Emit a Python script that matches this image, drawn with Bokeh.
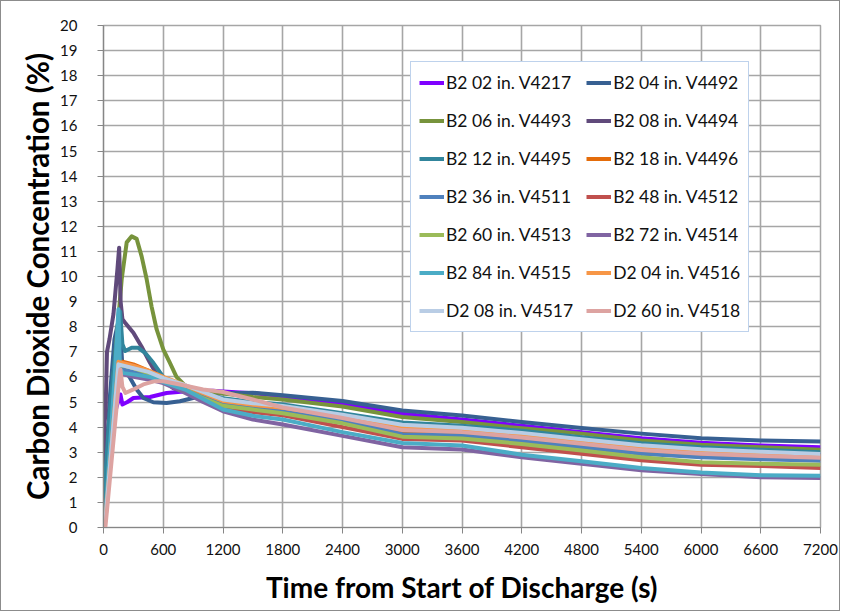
from bokeh.plotting import figure
from bokeh.models import Range1d, FixedTicker, Legend, LegendItem
from bokeh.embed import file_html
from bokeh.resources import INLINE

x_ticks = [0, 600, 1200, 1800, 2400, 3000, 3600, 4200, 4800, 5400, 6000, 6600, 7200]
y_ticks = list(range(0, 21))

names = ["B2 02 in. V4217", "B2 04 in. V4492", "B2 06 in. V4493", "B2 08 in. V4494",
         "B2 12 in. V4495", "B2 18 in. V4496", "B2 36 in. V4511", "B2 48 in. V4512",
         "B2 60 in. V4513", "B2 72 in. V4514", "B2 84 in. V4515", "D2 04 in. V4516",
         "D2 08 in. V4517", "D2 60 in. V4518"]
colors = ["#7F00FF", "#376092", "#77933C", "#604A7B", "#31859C", "#E46C0A", "#4F81BD",
          "#C0504D", "#9BBB59", "#8064A2", "#4BACC6", "#F79646", "#B9CDE5", "#DDA3A1"]

t_b2_02 = [0, 30, 83, 130, 170, 190, 240, 300, 467, 633, 833, 1100, 1200, 1500, 1800, 2400, 3000, 3600, 4200, 4800, 5400, 6000, 6600, 7200]
v_b2_02 = [0, 1.5, 3.9, 4.8, 5.3, 4.9, 5.0, 5.16, 5.2, 5.36, 5.43, 5.45, 5.42, 5.35, 5.23, 4.95, 4.53, 4.3, 4.05, 3.8, 3.56, 3.38, 3.27, 3.2]

t_b2_04 = [0, 20, 60, 110, 160, 190, 267, 333, 400, 500, 633, 767, 900, 1100, 1200, 1500, 1800, 2400, 3000, 3600, 4200, 4800, 5400, 6000, 6600, 7200]
v_b2_04 = [0, 2.0, 5.0, 7.5, 8.4, 6.4, 5.96, 5.5, 5.16, 4.99, 4.96, 5.03, 5.16, 5.3, 5.35, 5.37, 5.27, 5.04, 4.66, 4.46, 4.2, 3.96, 3.74, 3.56, 3.47, 3.43]

t_b2_06 = [0, 10, 50, 100, 183, 233, 283, 333, 383, 433, 483, 533, 600, 667, 733, 833, 967, 1200, 1500, 1800, 2400, 3000, 3600, 4200, 4800, 5400, 6000, 6600, 7200]
v_b2_06 = [0, 0, 3.0, 6.0, 9.9, 11.36, 11.6, 11.5, 10.8, 9.9, 8.8, 7.9, 7.1, 6.56, 6.0, 5.6, 5.47, 5.34, 5.2, 5.1, 4.82, 4.4, 4.2, 3.95, 3.74, 3.47, 3.3, 3.2, 3.1]

t_b2_08 = [0, 10, 20, 35, 60, 100, 140, 157, 172, 190, 217, 300, 383, 467, 550, 700, 900, 1200, 1500, 1800, 2400, 3000, 3600, 4200, 4800, 5400, 6000, 6600, 7200]
v_b2_08 = [0, 4.2, 4.5, 7.0, 7.5, 8.5, 10.3, 11.15, 9.0, 8.3, 8.16, 7.76, 7.2, 6.56, 6.0, 5.55, 5.3, 5.08, 4.93, 4.82, 4.46, 4.04, 3.94, 3.73, 3.48, 3.23, 3.08, 2.99, 2.9]

t_b2_12 = [0, 10, 60, 120, 167, 190, 217, 283, 350, 417, 500, 600, 700, 850, 1000, 1200, 1500, 1800, 2400, 3000, 3600, 4200, 4800, 5400, 6000, 6600, 7200]
v_b2_12 = [0, 1.5, 4.5, 7.0, 8.6, 7.3, 7.03, 7.16, 7.16, 6.96, 6.56, 6.0, 5.6, 5.4, 5.25, 5.15, 5.0, 4.9, 4.55, 4.18, 4.05, 3.85, 3.6, 3.36, 3.2, 3.1, 3.0]

t_group = [0, 20, 150, 200, 300, 450, 600, 800, 1000, 1200, 1500, 1800, 2400, 3000, 3600, 4200, 4800, 5400, 6000, 6600, 7200]
v_b2_18 = [0, 0.5, 6.6, 6.6, 6.5, 6.25, 5.95, 5.62, 5.28, 4.95, 4.8, 4.68, 4.31, 3.81, 3.75, 3.53, 3.28, 3.02, 2.88, 2.8, 2.73]
v_b2_36 = [0, 0.5, 6.3, 6.3, 6.2, 6.05, 5.85, 5.55, 5.2, 4.9, 4.75, 4.62, 4.25, 3.72, 3.67, 3.45, 3.2, 2.94, 2.8, 2.72, 2.66]
v_b2_48 = [0, 0.5, 6.5, 6.55, 6.45, 6.2, 5.9, 5.5, 5.1, 4.8, 4.6, 4.47, 4.0, 3.53, 3.47, 3.2, 2.94, 2.68, 2.5, 2.45, 2.37]
v_b2_60 = [0, 0.5, 6.4, 6.45, 6.35, 6.15, 5.9, 5.55, 5.15, 4.85, 4.7, 4.55, 4.15, 3.62, 3.55, 3.33, 3.07, 2.8, 2.6, 2.54, 2.5]
v_b2_72 = [0, 0.5, 6.2, 6.1, 6.0, 5.9, 5.75, 5.4, 5.0, 4.63, 4.3, 4.1, 3.65, 3.2, 3.11, 2.8, 2.54, 2.28, 2.13, 2.0, 1.97]
v_d2_04 = [0, 0.3, 6.6, 6.55, 6.45, 6.25, 6.0, 5.7, 5.35, 5.04, 4.89, 4.77, 4.42, 3.97, 3.88, 3.67, 3.42, 3.17, 3.02, 2.93, 2.85]
v_d2_08 = [0, 0.3, 6.5, 6.45, 6.35, 6.2, 5.95, 5.7, 5.4, 5.1, 4.95, 4.84, 4.49, 4.09, 3.97, 3.77, 3.52, 3.28, 3.12, 3.02, 2.93]

t_b2_84 = [0, 20, 120, 150, 165, 200, 300, 467, 633, 833, 1200, 1500, 1800, 2400, 3000, 3600, 4200, 4800, 5400, 6000, 6600, 7200]
v_b2_84 = [0, 0.5, 6.5, 8.7, 6.3, 6.15, 6.1, 6.0, 5.74, 5.47, 4.7, 4.45, 4.3, 3.8, 3.37, 3.27, 2.9, 2.64, 2.37, 2.19, 2.08, 2.06]

t_d2_60 = [0, 20, 160, 170, 190, 220, 300, 400, 517, 600, 767, 1000, 1200, 1500, 1800, 2400, 3000, 3600, 4200, 4800, 5400, 6000, 6600, 7200]
v_d2_60 = [0, 0.05, 6.0, 6.3, 5.6, 5.36, 5.5, 5.7, 5.83, 5.83, 5.7, 5.5, 5.4, 5.1, 4.78, 4.36, 3.88, 3.8, 3.59, 3.34, 3.09, 2.94, 2.85, 2.78]

series_t = [t_b2_02, t_b2_04, t_b2_06, t_b2_08, t_b2_12, t_group, t_group, t_group,
            t_group, t_group, t_b2_84, t_group, t_group, t_d2_60]
series_v = [v_b2_02, v_b2_04, v_b2_06, v_b2_08, v_b2_12, v_b2_18, v_b2_36, v_b2_48,
            v_b2_60, v_b2_72, v_b2_84, v_d2_04, v_d2_08, v_d2_60]

FONT = "Lato"
GRID = "#A6A6A6"

p = figure(width=840, height=611, output_backend="svg", toolbar_location=None,
           x_range=Range1d(0, 7200), y_range=Range1d(0, 20),
           min_border_left=102, min_border_right=21, min_border_top=24, min_border_bottom=85)
p.styles = {"border": "1px solid #8C8C8C"}
p.background_fill_color = "white"
p.border_fill_color = "white"
p.outline_line_color = GRID
p.outline_line_width = 1.5

p.xaxis.ticker = FixedTicker(ticks=x_ticks)
p.yaxis.ticker = FixedTicker(ticks=y_ticks)
p.xgrid.ticker = FixedTicker(ticks=x_ticks)
p.ygrid.ticker = FixedTicker(ticks=y_ticks)
for g in (p.xgrid, p.ygrid):
    g.grid_line_color = GRID
    g.grid_line_width = 1.6

for ax in (p.xaxis, p.yaxis):
    ax.axis_line_color = "#868686"
    ax.axis_line_width = 1.2
    ax.major_tick_line_color = "#868686"
    ax.major_tick_out = 6
    ax.major_tick_in = 0
    ax.minor_tick_line_color = None
    ax.major_label_text_font = FONT
    ax.major_label_text_font_size = "15px"
    ax.major_label_text_color = "#111111"
    ax.axis_label_text_font = FONT
    ax.axis_label_text_font_style = "bold"
    ax.axis_label_text_color = "#000000"

p.xaxis.axis_label_text_font_size = "28px"
p.yaxis.axis_label_text_font_size = "29.5px"
p.xaxis.axis_label = "Time from Start of Discharge (s)"
p.yaxis.axis_label = "Carbon Dioxide Concentration (%)"
p.yaxis.major_label_standoff = 20
p.xaxis.major_label_standoff = 10
p.yaxis.axis_label_standoff = 2
p.xaxis.axis_label_standoff = 12

renderers = []
for t, v, c in zip(series_t, series_v, colors):
    r = p.line(t, v, line_color=c, line_width=4, line_join="round")
    renderers.append(r)

items = [LegendItem(label=n, renderers=[r]) for n, r in zip(names, renderers)]
legend = Legend(items=items, orientation="horizontal", ncols=2,
                location=(307, 195), padding=8, margin=0, spacing=13,
                glyph_width=25, glyph_height=25, label_height=25, label_standoff=2,
                label_text_font=FONT, label_text_font_size="17.5px", label_text_color="#111111",
                border_line_color="#7EA6D9", border_line_width=1.5,
                background_fill_color="white", background_fill_alpha=1.0)
p.add_layout(legend)

open("out.html", "w").write(file_html(p, INLINE))
